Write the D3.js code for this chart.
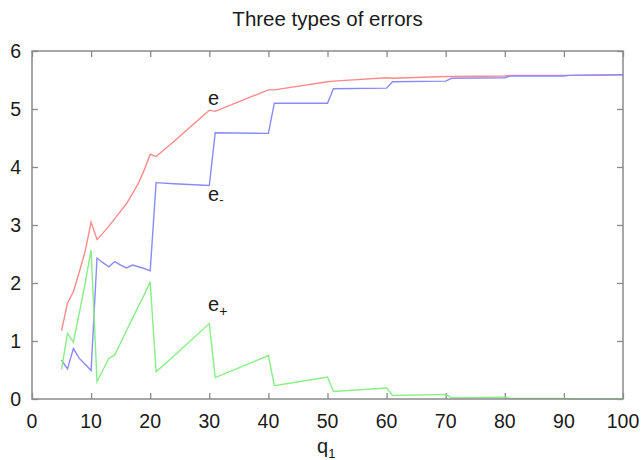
<!DOCTYPE html>
<html><head><meta charset="utf-8">
<script src="https://cdn.jsdelivr.net/npm/d3@7"></script>
<style>
html,body{margin:0;padding:0;background:#fff;}
text{font-family:"Liberation Sans",Arial,Helvetica,sans-serif;fill:#1a1a1a;}
</style></head>
<body>
<svg id="chart" width="642" height="460"></svg>
<script>
const title = "Three types of errors";
const q =      [5,6,7,8,9,10,11,12,13,14,15,16,17,18,19,20,21,24,30,31,40,41,50,51,60,61,70,71,80,81,90,91,100];
const eTotal = [1.18,1.65,1.85,2.19,2.55,3.05,2.75,2.86,2.98,3.11,3.24,3.37,3.54,3.72,3.95,4.22,4.18,4.44,4.98,4.96,5.33,5.33,5.47,5.48,5.54,5.53,5.56,5.56,5.57,5.58,5.58,5.58,5.59];
const eMinus = [0.67,0.52,0.87,0.70,0.60,0.49,2.43,2.35,2.28,2.37,2.31,2.26,2.31,2.28,2.25,2.21,3.73,3.71,3.68,4.59,4.58,5.10,5.10,5.35,5.36,5.47,5.48,5.53,5.54,5.57,5.57,5.58,5.59];
const ePlus  = [0.51,1.13,0.98,1.48,2.00,2.57,0.30,0.50,0.70,0.76,0.97,1.18,1.39,1.60,1.80,2.02,0.47,0.74,1.30,0.37,0.75,0.23,0.38,0.13,0.19,0.06,0.08,0.02,0.03,0.01,0.01,0.00,0.00];
const xTicks = [0,10,20,30,40,50,60,70,80,90,100];
const yTicks = [0,1,2,3,4,5,6];

const svg = d3.select("#chart");
const L = 32, R = 623, T = 51, B = 399;
const x = d3.scaleLinear().domain([0,100]).range([L,R]);
const y = d3.scaleLinear().domain([0,6]).range([B,T]);
const axisColor = "#8a8a8a";

// ticks (inward, mirrored)
const g = svg.append("g");
const tickLen = 6;
g.append("g").attr("transform",`translate(0,${B})`)
  .call(d3.axisTop(x).tickValues(xTicks).tickSize(tickLen).tickFormat(""))
  .call(s=>{s.select(".domain").remove(); s.selectAll("line").attr("stroke",axisColor).attr("stroke-width",1.3);});
g.append("g").attr("transform",`translate(0,${T})`)
  .call(d3.axisBottom(x).tickValues(xTicks).tickSize(tickLen).tickFormat(""))
  .call(s=>{s.select(".domain").remove(); s.selectAll("line").attr("stroke",axisColor).attr("stroke-width",1.3);});
g.append("g").attr("transform",`translate(${L},0)`)
  .call(d3.axisRight(y).tickValues(yTicks).tickSize(tickLen).tickFormat(""))
  .call(s=>{s.select(".domain").remove(); s.selectAll("line").attr("stroke",axisColor).attr("stroke-width",1.3);});
g.append("g").attr("transform",`translate(${R},0)`)
  .call(d3.axisLeft(y).tickValues(yTicks).tickSize(tickLen).tickFormat(""))
  .call(s=>{s.select(".domain").remove(); s.selectAll("line").attr("stroke",axisColor).attr("stroke-width",1.3);});

// tick labels
svg.append("g").selectAll("text").data(xTicks).join("text")
  .attr("x",d=>x(d)).attr("y",428).attr("text-anchor","middle")
  .attr("font-size",19.5).text(d=>d);
svg.append("g").selectAll("text").data(yTicks).join("text")
  .attr("x",21).attr("y",d=>y(d)+7).attr("text-anchor","end")
  .attr("font-size",19.5).text(d=>d);

// series
const series = [
  {vals:eTotal, color:"#ff8a8a"},
  {vals:eMinus, color:"#8a8aff"},
  {vals:ePlus,  color:"#88ee88"}
];
const line = d3.line().x(d=>x(d[0])).y(d=>y(d[1]));
series.forEach(s=>{
  svg.append("path").datum(q.map((v,i)=>[v,s.vals[i]]))
    .attr("d",line).attr("fill","none").attr("stroke",s.color)
    .attr("stroke-width",1.4).attr("stroke-linejoin","miter");
});

// frame
svg.append("rect").attr("x",L).attr("y",T).attr("width",R-L).attr("height",B-T)
  .attr("fill","none").attr("stroke",axisColor).attr("stroke-width",1.5);

// title
svg.append("text").attr("x",(L+R)/2).attr("y",26).attr("text-anchor","middle")
  .attr("font-size",20.5).text(title);

// series labels
const lab1 = svg.append("text").attr("x",208).attr("y",105).attr("font-size",20);
lab1.append("tspan").text("e");
const lab2 = svg.append("text").attr("x",208).attr("y",201).attr("font-size",20);
lab2.append("tspan").text("e");
lab2.append("tspan").attr("font-size",13).attr("dy",3).text("-");
const lab3 = svg.append("text").attr("x",208).attr("y",311).attr("font-size",20);
lab3.append("tspan").text("e");
lab3.append("tspan").attr("font-size",14).attr("dy",5).text("+");

// x axis label
const xl = svg.append("text").attr("x",317).attr("y",453).attr("font-size",20);
xl.append("tspan").text("q");
xl.append("tspan").attr("font-size",13).attr("dy",5).text("1");
</script>
</body></html>
